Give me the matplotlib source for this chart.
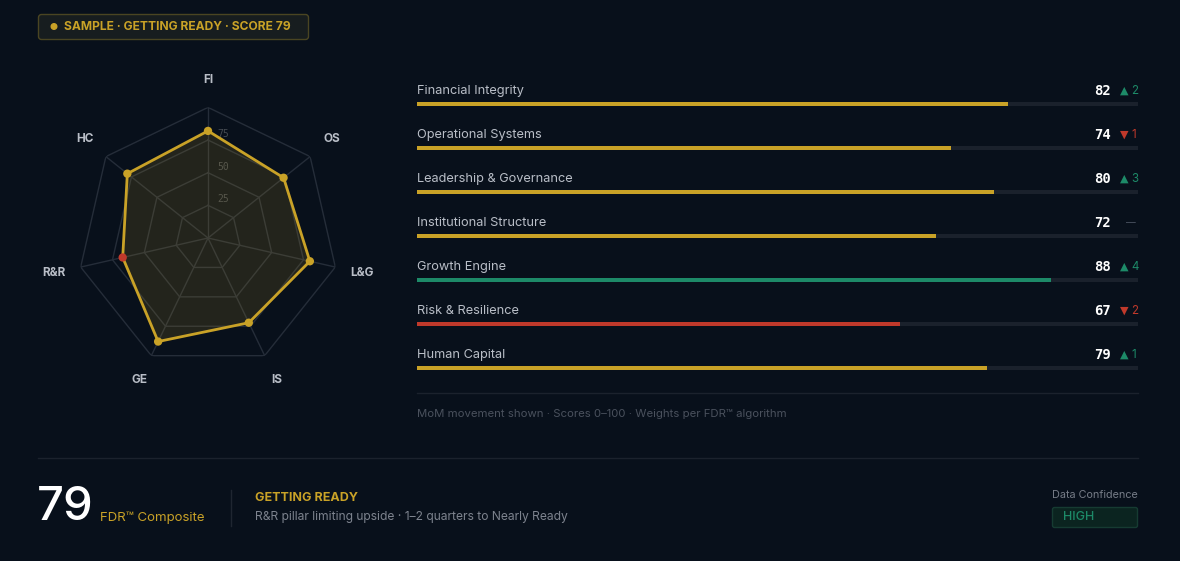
import numpy as np
import matplotlib
matplotlib.use("Agg")
import matplotlib.pyplot as plt
from matplotlib.patches import FancyBboxPatch, Circle
from matplotlib.transforms import offset_copy

# data
pillars = ["Financial Integrity", "Operational Systems", "Leadership & Governance",
           "Institutional Structure", "Growth Engine", "Risk & Resilience", "Human Capital"]
codes = ["FI", "OS", "L&G", "IS", "GE", "R&R", "HC"]
scores = [82, 74, 80, 72, 88, 67, 79]
deltas = [2, -1, 3, 0, 4, -2, 1]
composite = 79

BG = "#08101b"
GOLD = "#c9a227"
GREEN = "#1d8a68"
RED = "#c0392b"
TRACK = "#1a212c"
GRID = "#252d39"
LABEL = "#b9bec7"
DIM = "#5b6270"

plt.rcParams["font.family"] = ["Inter", "DejaVu Sans"]

def status_color(v):
    if v >= 85:
        return GREEN
    if v < 70:
        return RED
    return GOLD

W, H = 1180, 561
fig = plt.figure(figsize=(W / 100, H / 100), dpi=100, facecolor=BG)

# overlay axes in pixel coords
ax0 = fig.add_axes([0, 0, 1, 1])
ax0.set_xlim(0, W)
ax0.set_ylim(H, 0)
ax0.axis("off")
ax0.set_facecolor(BG)

# top badge
ax0.add_patch(FancyBboxPatch((38.5, 14.5), 270, 25, boxstyle="round,pad=0,rounding_size=3",
                             facecolor="#171d1f", edgecolor="#4a4522", lw=1))
ax0.add_patch(Circle((54, 26.5), 2.8, color=GOLD))
ax0.text(64, 27, "SAMPLE · GETTING READY · SCORE %d" % composite, color=GOLD,
         fontsize=8.7, fontweight="bold", va="center", ha="left")

# radar
cx, cy, R = 208, 238, 130.6
rax = fig.add_axes([(cx - R) / W, (H - cy - R) / H, 2 * R / W, 2 * R / H], projection="polar")
rax.set_facecolor("none")
rax.set_theta_offset(np.pi / 2)
rax.set_theta_direction(-1)
rax.set_ylim(0, 100)
rax.grid(False)
rax.spines["polar"].set_visible(False)
rax.set_xticks([])
rax.set_yticks([])
n = len(codes)
angles = np.linspace(0, 2 * np.pi, n, endpoint=False)
ang_c = np.concatenate([angles, angles[:1]])
for lvl in [25, 50, 75, 100]:
    rax.plot(ang_c, [lvl] * (n + 1), color=GRID, lw=1, zorder=1)
for a in angles:
    rax.plot([a, a], [0, 100], color=GRID, lw=1, zorder=1)
tr = offset_copy(rax.transData, fig=fig, x=9, y=6, units="dots")
for lvl in [25, 50, 75]:
    rax.text(0, lvl, str(lvl), transform=tr, color="#454b52", fontsize=7,
             family="DejaVu Sans Mono", ha="left", va="center", zorder=1)
sc = np.array(scores + scores[:1])
rax.fill(ang_c, sc, color=GOLD, alpha=0.14, lw=0, zorder=2)
rax.plot(ang_c, sc, color=GOLD, lw=2, zorder=3)
rax.scatter(angles, scores, s=36, c=[status_color(v) if v < 70 else GOLD for v in scores],
            zorder=4, linewidths=0)
for a, c in zip(angles, codes):
    rax.text(a, 121, c, color=LABEL, fontsize=8.5, fontweight="bold",
             ha="center", va="center", clip_on=False)

# pillar bars
bx0, bx1 = 417, 1138
row = 44
y_top = 104 - row / 2
bax = fig.add_axes([bx0 / W, (H - (y_top + row * n)) / H, (bx1 - bx0) / W, row * n / H])
bax.set_facecolor("none")
bax.set_xlim(0, 100)
bax.set_ylim(n - 0.5, -0.5)
bax.axis("off")
ypos = np.arange(n)
bax.barh(ypos, [100] * n, height=0.095, color=TRACK, zorder=1)
bax.barh(ypos, scores, height=0.095, color=[status_color(v) for v in scores], zorder=2)
ty = 0.30
for i, (name, v, d) in enumerate(zip(pillars, scores, deltas)):
    bax.text(0, i - ty, name, color=LABEL, fontsize=9.2, ha="left", va="center")
    bax.text(96.2, i - ty, str(v), color="white", fontsize=10, fontweight="bold",
             family="DejaVu Sans Mono", ha="right", va="center")
    if d > 0:
        bax.text(97.5, i - ty, "▲", color=GREEN, fontsize=8, ha="left", va="center",
                 family="DejaVu Sans")
        bax.text(99.1, i - ty, str(d), color=GREEN, fontsize=8.3, ha="left", va="center")
    elif d < 0:
        bax.text(97.5, i - ty, "▼", color=RED, fontsize=8, ha="left", va="center",
                 family="DejaVu Sans")
        bax.text(99.1, i - ty, str(-d), color=RED, fontsize=8.3, ha="left", va="center")
    else:
        bax.text(98.3, i - ty, "—", color="#4a5260", fontsize=7, ha="left", va="center")

ax0.plot([bx0, bx1], [392.5, 392.5], color="#1b222d", lw=1)
ax0.text(bx0, 413.5, "MoM movement shown · Scores 0–100 · Weights per FDR™ algorithm",
         color="#4a515d", fontsize=8.2, ha="left", va="center")

# footer
ax0.plot([38, bx1], [457.5, 457.5], color="#1b222d", lw=1)
ax0.text(37, 508, str(composite), color="white", fontsize=34, fontweight="medium",
         ha="left", va="center")
ax0.text(100, 518, "FDR™ Composite", color=GOLD, fontsize=9.5, ha="left", va="center")
ax0.plot([230.5, 230.5], [490, 526], color="#1f2631", lw=1)
ax0.text(255, 498, "GETTING READY", color=GOLD, fontsize=9, fontweight="bold",
         ha="left", va="center")
ax0.text(255, 517, "R&R pillar limiting upside · 1–2 quarters to Nearly Ready",
         color="#7d838e", fontsize=8.7, ha="left", va="center")
ax0.text(1138, 495, "Data Confidence", color="#767c87", fontsize=7.8, ha="right", va="center")
ax0.add_patch(FancyBboxPatch((1052.5, 507.5), 85, 20, boxstyle="round,pad=0,rounding_size=2",
                             facecolor="#0b2420", edgecolor="#163b32", lw=1))
ax0.text(1063, 517.5, "HIGH", color=GREEN, fontsize=9, fontweight="medium",
         ha="left", va="center")

fig.savefig("out.png", dpi=100, facecolor=BG)
